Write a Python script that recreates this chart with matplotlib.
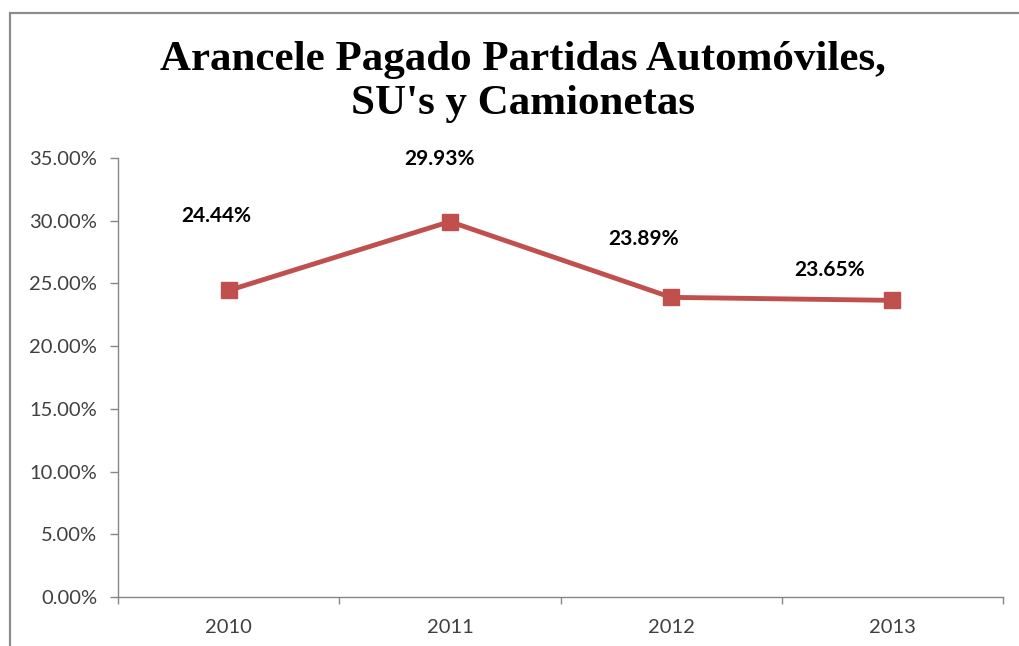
import matplotlib.pyplot as plt
from matplotlib.patches import Rectangle
from matplotlib.ticker import FuncFormatter

# datos
years = ['2010', '2011', '2012', '2013']
arancel = [24.44, 29.93, 23.89, 23.65]
labels = ['24.44%', '29.93%', '23.89%', '23.65%']
title = "Arancele Pagado Partidas Automóviles,\nSU's y Camionetas"

# offsets of the data labels (pixels)
label_dx = [-12, -10, -28, -63]
label_dy = [74, 63, 58, 30]

red = '#C0504D'
grey = '#868686'
txt = '#404040'

fig = plt.figure(figsize=(10.19, 6.46), dpi=100)
ax = fig.add_axes([118/1019, 1 - 597/646, (1003 - 118)/1019, (597 - 158)/646])

# outer chart frame (cut at right and bottom as in the original)
fig.patches.append(Rectangle((10/1019, -0.1), 1.2, 1 - 13/646 + 0.1,
                             transform=fig.transFigure, fill=False,
                             edgecolor='#8c8c8c', lw=1.6))

x = list(range(1, len(years) + 1))
ax.plot(x, arancel, color=red, lw=3.5, marker='s', markersize=12,
        markerfacecolor=red, markeredgecolor=red)

for xi, yi, lab, dx, dy in zip(x, arancel, labels, label_dx, label_dy):
    ax.annotate(lab, (xi, yi), xytext=(dx, dy), textcoords='offset pixels',
                ha='center', va='center', fontsize=15, fontweight='bold',
                family='Lato', color='black')

ax.set_xlim(0.5, 4.5)
ax.set_ylim(0, 35)
ax.set_yticks([0, 5, 10, 15, 20, 25, 30, 35])
ax.yaxis.set_major_formatter(FuncFormatter(lambda v, p: f'{v:.2f}%'))

ax.set_xticks([0.5, 1.5, 2.5, 3.5, 4.5])
ax.set_xticklabels([])
ax.set_xticks(x, minor=True)
ax.set_xticklabels(years, minor=True)
ax.tick_params(axis='x', which='minor', length=0, pad=16)
ax.tick_params(axis='x', which='major', length=5, color=grey, width=1)
ax.tick_params(axis='y', length=6, color=grey, width=1, pad=9)
for lab in ax.get_xticklabels(minor=True) + ax.get_yticklabels():
    lab.set_fontsize(14.5)
    lab.set_family('Lato')
    lab.set_color(txt)

for s in ['top', 'right']:
    ax.spines[s].set_visible(False)
for s in ['left', 'bottom']:
    ax.spines[s].set_color(grey)
    ax.spines[s].set_linewidth(1)

fig.text(0.513, 1 - 82/646, title, ha='center', va='center', fontsize=31,
         fontweight='bold', family='Liberation Serif', linespacing=1.2)

fig.savefig('out.png', dpi=100)
